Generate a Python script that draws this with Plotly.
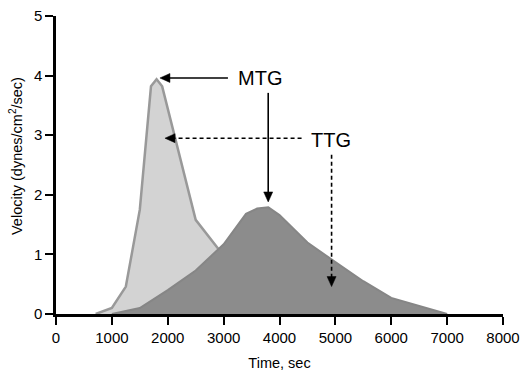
import plotly.graph_objects as go

# MTG (light) curve
mtg_x = [710, 1000, 1250, 1500, 1700, 1800, 1900, 2500, 2900, 3300, 3700, 4100]
mtg_y = [0, 0.1, 0.46, 1.75, 3.82, 3.94, 3.82, 1.58, 1.1, 0.6, 0.25, 0]

# TTG (dark) curve
ttg_x = [1000, 1500, 2000, 2500, 3000, 3400, 3600, 3800, 4000, 4500, 5000, 5500, 6000, 7000]
ttg_y = [0, 0.1, 0.4, 0.73, 1.17, 1.68, 1.77, 1.79, 1.66, 1.2, 0.87, 0.55, 0.27, 0]

x_ticks = [0, 1000, 2000, 3000, 4000, 5000, 6000, 7000, 8000]
y_ticks = [0, 1, 2, 3, 4, 5]

# annotation arrows: (tail_x, tail_y, head_x, head_y, dashed)
arrows = [
    (3077, 3.96, 1860, 3.96, False),
    (3798, 3.71, 3798, 1.88, False),
    (4395, 2.95, 1950, 2.95, True),
    (4932, 2.67, 4932, 0.46, True),
]

FONT = "Arial, Liberation Sans, sans-serif"
X_RANGE = [0, 8000]
Y_RANGE = [0, 5]
W, H = 522, 372
M = dict(l=56, r=19, t=16, b=58)
px_x = (W - M["l"] - M["r"]) / (X_RANGE[1] - X_RANGE[0])
px_y = (H - M["t"] - M["b"]) / (Y_RANGE[1] - Y_RANGE[0])

fig = go.Figure()
fig.add_trace(go.Scatter(x=mtg_x, y=mtg_y, mode="lines", fill="tozeroy",
                         fillcolor="#d3d3d3", line=dict(color="#999999", width=2.5),
                         showlegend=False, hoverinfo="skip"))
fig.add_trace(go.Scatter(x=ttg_x, y=ttg_y, mode="lines", fill="tozeroy",
                         fillcolor="#8c8c8c", line=dict(color="#868686", width=2),
                         showlegend=False, hoverinfo="skip"))

shapes = []
HEAD_LEN, HEAD_HALF = 10, 4.5
for tx, ty, hx, hy, dashed in arrows:
    dxp = (hx - tx) * px_x
    dyp = (hy - ty) * px_y
    L = (dxp ** 2 + dyp ** 2) ** 0.5
    ux, uy = dxp / L, dyp / L
    bxp, byp = -ux * HEAD_LEN, -uy * HEAD_LEN
    bx, by = hx + bxp / px_x, hy + byp / px_y
    nx, ny = -uy * HEAD_HALF, ux * HEAD_HALF
    p1 = (bx + nx / px_x, by + ny / px_y)
    p2 = (bx - nx / px_x, by - ny / px_y)
    shapes.append(dict(type="line", xref="x", yref="y", x0=tx, y0=ty,
                       x1=hx + (bxp * 0.6) / px_x, y1=hy + (byp * 0.6) / px_y,
                       line=dict(color="black", width=1.6,
                                 dash="4px,3px" if dashed else "solid")))
    shapes.append(dict(type="path", xref="x", yref="y",
                       path=f"M {hx},{hy} L {p1[0]},{p1[1]} L {p2[0]},{p2[1]} Z",
                       fillcolor="black", line=dict(color="black", width=0.5)))

annotations = [
    dict(x=3650, y=3.96, text="MTG", showarrow=False,
         font=dict(size=20, color="black", family=FONT)),
    dict(x=4930, y=2.92, text="TTG", showarrow=False,
         font=dict(size=20, color="black", family=FONT)),
    dict(xref="paper", yref="paper", x=0, y=(H - M["b"] - 156) / (H - M["t"] - M["b"]),
         xanchor="center", yanchor="middle",
         xshift=-40, text="Velocity (dynes/cm<sup>2</sup>/sec)", textangle=-90,
         showarrow=False, font=dict(size=14.5, color="black", family=FONT)),
]

fig.update_layout(
    width=W, height=H,
    margin=M,
    plot_bgcolor="white", paper_bgcolor="white",
    font=dict(family=FONT, size=15, color="black"),
    annotations=annotations, shapes=shapes,
    xaxis=dict(range=X_RANGE, tickvals=x_ticks, ticktext=[str(v) for v in x_ticks],
               automargin=False, tickfont=dict(size=15, family=FONT),
               showgrid=False, zeroline=False, showline=True, linecolor="black",
               linewidth=2.5, ticks="outside", ticklen=8, tickwidth=2, tickcolor="black",
               title=dict(text="Time, sec", font=dict(size=14.5, family=FONT), standoff=14)),
    yaxis=dict(range=Y_RANGE, tickvals=y_ticks, ticktext=[str(v) for v in y_ticks],
               automargin=False, tickfont=dict(size=15, family=FONT),
               showgrid=False, zeroline=False, showline=True, linecolor="black",
               linewidth=2.5, ticks="outside", ticklen=8, tickwidth=2, tickcolor="black"),
)

fig.write_html("out.html")
